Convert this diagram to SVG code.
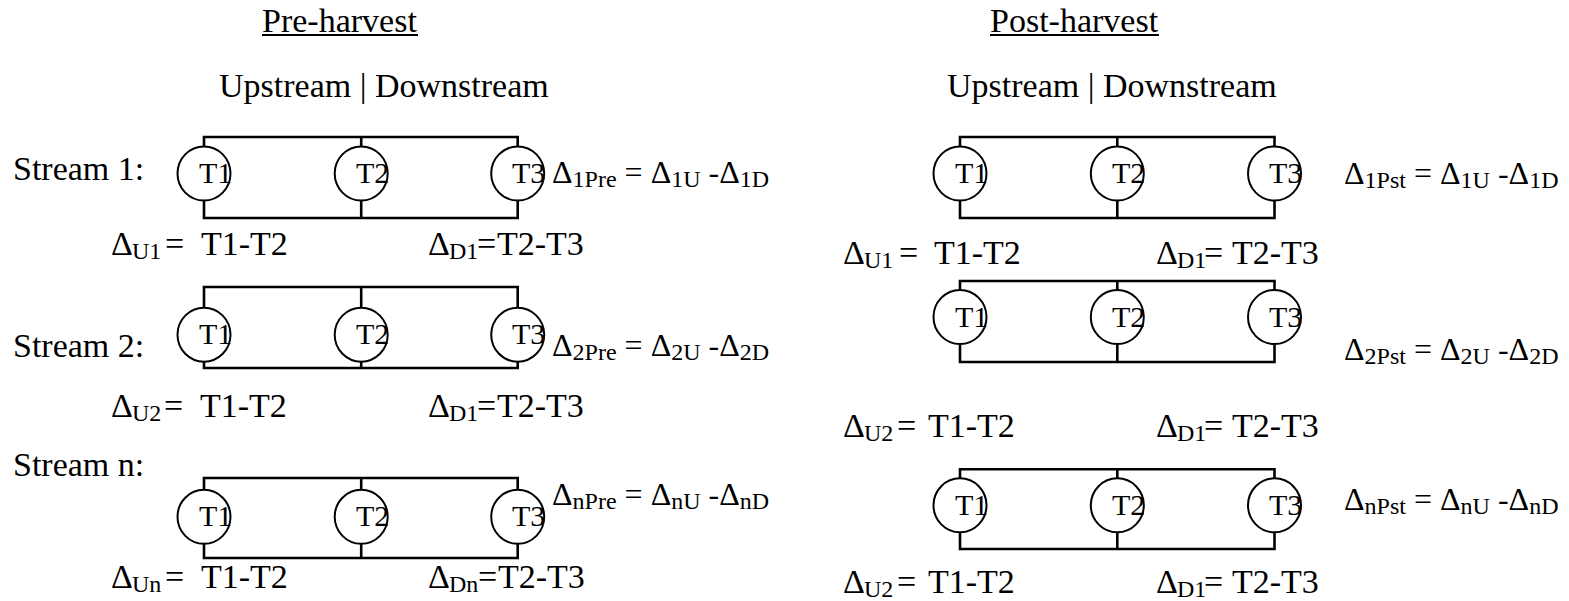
<svg xmlns="http://www.w3.org/2000/svg" width="1569" height="601" viewBox="0 0 1569 601">
  <style>
    text { font-family: "Liberation Serif", "Times New Roman", serif; fill: #000; }
    .h { font-size: 34px; }
    .m { font-size: 34px; }
    .f { font-size: 32px; }
    .s { font-size: 24px; }
    .t { font-size: 30px; }
    .wire { fill: none; stroke: #000; stroke-width: 2.6; }
    .node ellipse { fill: none; stroke: #000; stroke-width: 2; }
  </style>
  <defs>
    <ellipse id="sensor" cx="0" cy="0" rx="26.5" ry="27"/>
  </defs>

  <!-- section headings -->
  <text class="h" x="262" y="32">Pre-harvest</text>
  <line x1="262" y1="35" x2="418" y2="35" stroke="#000" stroke-width="1.8"/>
  <text class="h" x="219" y="97">Upstream | Downstream</text>
  <text class="h" x="990" y="32">Post-harvest</text>
  <line x1="990" y1="35" x2="1159" y2="35" stroke="#000" stroke-width="1.8"/>
  <text class="h" x="947" y="97">Upstream | Downstream</text>

  <!-- stream labels -->
  <text class="m" x="13" y="180">Stream 1:</text>
  <text class="m" x="13" y="357">Stream 2:</text>
  <text class="m" x="13" y="476">Stream n:</text>

  <!-- connectors: top and bottom bus bars joining the three sensors -->
  <g id="connectors" class="wire">
    <!-- pre-harvest -->
    <path d="M204,146.5 V137 H517.7 V146.5 M361.2,137 V146.5"/>
    <path d="M204,200.5 V218 H517.7 V200.5 M361.2,200.5 V218"/>
    <path d="M204,308 V287 H517.7 V308 M361.2,287 V308"/>
    <path d="M204,361.5 V368 H517.7 V361.5 M361.2,361.5 V368"/>
    <path d="M204,490 V478 H517.7 V490 M361.2,478 V490"/>
    <path d="M204,544 V558 H517.7 V544 M361.2,544 V558"/>
    <!-- post-harvest -->
    <path d="M960,146.5 V137 H1274.5 V146.5 M1117.3,137 V146.5"/>
    <path d="M960,200.5 V218 H1274.5 V200.5 M1117.3,200.5 V218"/>
    <path d="M960,290 V281 H1274.5 V290 M1117.3,281 V290"/>
    <path d="M960,344 V362 H1274.5 V344 M1117.3,344 V362"/>
    <path d="M960,478.3 V469.3 H1274.5 V478.3 M1117.3,469.3 V478.3"/>
    <path d="M960,532 V549 H1274.5 V532 M1117.3,532 V549"/>
  </g>

  <!-- pre-harvest sensors -->
  <g id="pre-s1-t1" class="node"><use href="#sensor" x="204" y="173.5" fill="none" stroke="#000" stroke-width="2"/><text class="t" x="199" y="183">T1</text></g>
  <g id="pre-s1-t2" class="node"><use href="#sensor" x="361.2" y="173.5" fill="none" stroke="#000" stroke-width="2"/><text class="t" x="356" y="183">T2</text></g>
  <g id="pre-s1-t3" class="node"><use href="#sensor" x="517.7" y="173.5" fill="none" stroke="#000" stroke-width="2"/><text class="t" x="512" y="183">T3</text></g>

  <g id="pre-s2-t1" class="node"><use href="#sensor" x="204" y="334.7" fill="none" stroke="#000" stroke-width="2"/><text class="t" x="199" y="344.2">T1</text></g>
  <g id="pre-s2-t2" class="node"><use href="#sensor" x="361.2" y="334.7" fill="none" stroke="#000" stroke-width="2"/><text class="t" x="356" y="344.2">T2</text></g>
  <g id="pre-s2-t3" class="node"><use href="#sensor" x="517.7" y="334.7" fill="none" stroke="#000" stroke-width="2"/><text class="t" x="512" y="344.2">T3</text></g>

  <g id="pre-sn-t1" class="node"><use href="#sensor" x="204" y="516.8" fill="none" stroke="#000" stroke-width="2"/><text class="t" x="199" y="526.3">T1</text></g>
  <g id="pre-sn-t2" class="node"><use href="#sensor" x="361.2" y="516.8" fill="none" stroke="#000" stroke-width="2"/><text class="t" x="356" y="526.3">T2</text></g>
  <g id="pre-sn-t3" class="node"><use href="#sensor" x="517.7" y="516.8" fill="none" stroke="#000" stroke-width="2"/><text class="t" x="512" y="526.3">T3</text></g>

  <!-- post-harvest sensors -->
  <g id="post-s1-t1" class="node"><use href="#sensor" x="960" y="173.5" fill="none" stroke="#000" stroke-width="2"/><text class="t" x="955" y="183">T1</text></g>
  <g id="post-s1-t2" class="node"><use href="#sensor" x="1117.3" y="173.5" fill="none" stroke="#000" stroke-width="2"/><text class="t" x="1112" y="183">T2</text></g>
  <g id="post-s1-t3" class="node"><use href="#sensor" x="1274.5" y="173.5" fill="none" stroke="#000" stroke-width="2"/><text class="t" x="1269" y="183">T3</text></g>

  <g id="post-s2-t1" class="node"><use href="#sensor" x="960" y="317" fill="none" stroke="#000" stroke-width="2"/><text class="t" x="955" y="326.5">T1</text></g>
  <g id="post-s2-t2" class="node"><use href="#sensor" x="1117.3" y="317" fill="none" stroke="#000" stroke-width="2"/><text class="t" x="1112" y="326.5">T2</text></g>
  <g id="post-s2-t3" class="node"><use href="#sensor" x="1274.5" y="317" fill="none" stroke="#000" stroke-width="2"/><text class="t" x="1269" y="326.5">T3</text></g>

  <g id="post-sn-t1" class="node"><use href="#sensor" x="960" y="505.3" fill="none" stroke="#000" stroke-width="2"/><text class="t" x="955" y="514.8">T1</text></g>
  <g id="post-sn-t2" class="node"><use href="#sensor" x="1117.3" y="505.3" fill="none" stroke="#000" stroke-width="2"/><text class="t" x="1112" y="514.8">T2</text></g>
  <g id="post-sn-t3" class="node"><use href="#sensor" x="1274.5" y="505.3" fill="none" stroke="#000" stroke-width="2"/><text class="t" x="1269" y="514.8">T3</text></g>

  <!-- stream balance formulas -->
  <text class="f" x="552" y="183">Δ<tspan class="s" dy="4">1Pre</tspan><tspan dy="-4"> = Δ</tspan><tspan class="s" dy="4">1U</tspan><tspan dy="-4"> -Δ</tspan><tspan class="s" dy="4">1D</tspan></text>
  <text class="f" x="552" y="356">Δ<tspan class="s" dy="4">2Pre</tspan><tspan dy="-4"> = Δ</tspan><tspan class="s" dy="4">2U</tspan><tspan dy="-4"> -Δ</tspan><tspan class="s" dy="4">2D</tspan></text>
  <text class="f" x="552" y="505">Δ<tspan class="s" dy="4">nPre</tspan><tspan dy="-4"> = Δ</tspan><tspan class="s" dy="4">nU</tspan><tspan dy="-4"> -Δ</tspan><tspan class="s" dy="4">nD</tspan></text>

  <text class="f" x="1344" y="184">Δ<tspan class="s" dy="4">1Pst</tspan><tspan dy="-4"> = Δ</tspan><tspan class="s" dy="4">1U</tspan><tspan dy="-4"> -Δ</tspan><tspan class="s" dy="4">1D</tspan></text>
  <text class="f" x="1344" y="360">Δ<tspan class="s" dy="4">2Pst</tspan><tspan dy="-4"> = Δ</tspan><tspan class="s" dy="4">2U</tspan><tspan dy="-4"> -Δ</tspan><tspan class="s" dy="4">2D</tspan></text>
  <text class="f" x="1344" y="510">Δ<tspan class="s" dy="4">nPst</tspan><tspan dy="-4"> = Δ</tspan><tspan class="s" dy="4">nU</tspan><tspan dy="-4"> -Δ</tspan><tspan class="s" dy="4">nD</tspan></text>

  <!-- upstream / downstream differences, pre-harvest -->
  <text class="m" x="111" y="255">Δ<tspan class="s" x="132" dy="4">U1</tspan><tspan x="165" dy="-4">=</tspan><tspan x="201">T1-T2</tspan></text>
  <text class="m" x="428" y="255">Δ<tspan class="s" x="449" dy="4">D1</tspan><tspan x="477" dy="-4">=</tspan><tspan x="497">T2-T3</tspan></text>
  <text class="m" x="111" y="417">Δ<tspan class="s" x="132" dy="4">U2</tspan><tspan x="164" dy="-4">=</tspan><tspan x="200">T1-T2</tspan></text>
  <text class="m" x="428" y="417">Δ<tspan class="s" x="449" dy="4">D1</tspan><tspan x="477" dy="-4">=</tspan><tspan x="497">T2-T3</tspan></text>
  <text class="m" x="111" y="588">Δ<tspan class="s" x="132" dy="4">Un</tspan><tspan x="165" dy="-4">=</tspan><tspan x="201">T1-T2</tspan></text>
  <text class="m" x="428" y="588">Δ<tspan class="s" x="449" dy="4">Dn</tspan><tspan x="478" dy="-4">=</tspan><tspan x="498">T2-T3</tspan></text>

  <!-- upstream / downstream differences, post-harvest -->
  <text class="m" x="843" y="264">Δ<tspan class="s" x="864" dy="4">U1</tspan><tspan x="899" dy="-4">=</tspan><tspan x="934">T1-T2</tspan></text>
  <text class="m" x="1156" y="264">Δ<tspan class="s" x="1177" dy="4">D1</tspan><tspan x="1204" dy="-4">=</tspan><tspan x="1232">T2-T3</tspan></text>
  <text class="m" x="843" y="437">Δ<tspan class="s" x="864" dy="4">U2</tspan><tspan x="897" dy="-4">=</tspan><tspan x="928">T1-T2</tspan></text>
  <text class="m" x="1156" y="437">Δ<tspan class="s" x="1177" dy="4">D1</tspan><tspan x="1204" dy="-4">=</tspan><tspan x="1232">T2-T3</tspan></text>
  <text class="m" x="843" y="593">Δ<tspan class="s" x="864" dy="4">U2</tspan><tspan x="897" dy="-4">=</tspan><tspan x="928">T1-T2</tspan></text>
  <text class="m" x="1156" y="593">Δ<tspan class="s" x="1177" dy="4">D1</tspan><tspan x="1204" dy="-4">=</tspan><tspan x="1232">T2-T3</tspan></text>
</svg>
